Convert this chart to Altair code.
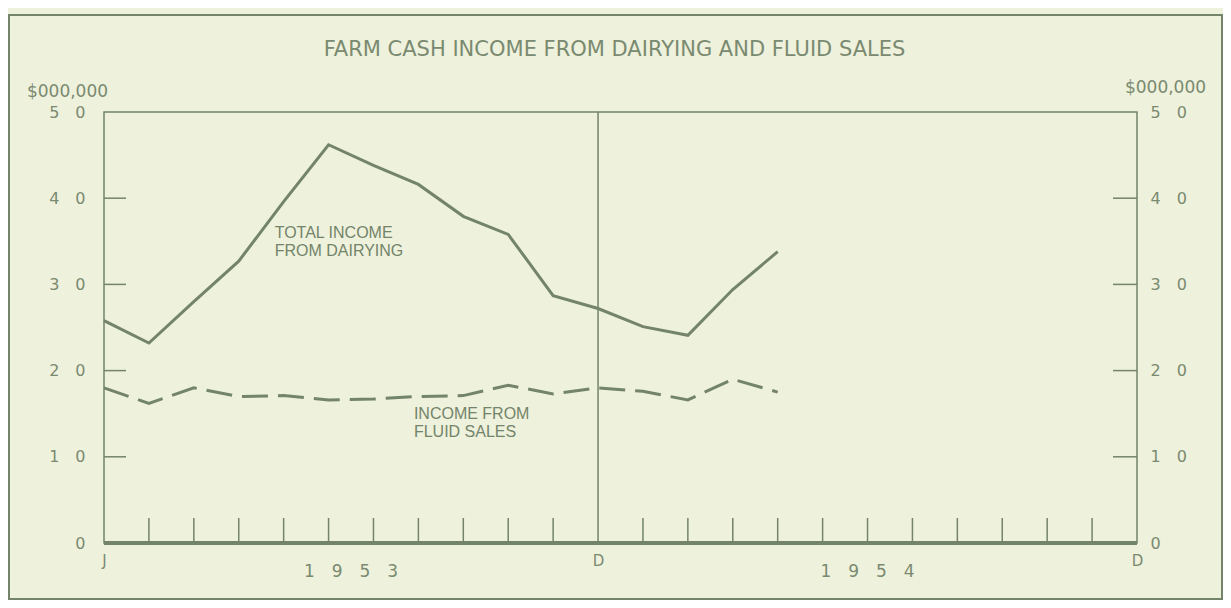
import altair as alt
import pandas as pd

# ---------------- data ----------------
month_names = ["Jan", "Feb", "Mar", "Apr", "May", "Jun", "Jul", "Aug", "Sep", "Oct", "Nov", "Dec",
               "Jan", "Feb", "Mar", "Apr"]
years = [1953] * 12 + [1954] * 4
total_income = [25.8, 23.2, 28.0, 32.7, 39.6, 46.2, 43.8, 41.6, 37.9, 35.8, 28.7, 27.2,
                25.1, 24.1, 29.4, 33.8]
fluid_sales = [18.0, 16.2, 18.0, 17.0, 17.1, 16.6, 16.7, 17.0, 17.1, 18.3, 17.3, 18.0,
               17.6, 16.6, 19.0, 17.5]

y_tick_values = [0, 10, 20, 30, 40, 50]
y_inner_ticks = [10, 20, 30, 40]
x_month_ticks = [1, 2, 3, 4, 5, 6, 7, 8, 9, 10, 12, 13, 14, 15, 16, 17, 18, 19, 20, 21, 22]
x_label_positions = [0, 11, 23]
x_label_texts = ["J", "D", "D"]
divider_months = [11]
year_positions = [5.5, 17]
year_texts = ["1\u20039\u20035\u20033", "1\u20039\u20035\u20034"]
annotation_x = [3.8, 6.9]
annotation_y = [36.9, 15.9]
annotation_texts = ["TOTAL INCOME\nFROM DAIRYING", "INCOME FROM\nFLUID SALES"]
title_text = "FARM CASH INCOME FROM DAIRYING AND FLUID SALES"
unit_text = "$000,000"

# ---------------- styling ----------------
BG = "#eef1dc"
LINE = "#73846a"
TEXT = "#7a8a70"
FONT = "DejaVu Sans"
W, H = 1033, 431

df = pd.DataFrame({
    "k": list(range(len(total_income))),
    "month": month_names,
    "year": years,
    "total": total_income,
    "fluid": fluid_sales,
})

xs = alt.Scale(domain=[0, 23], nice=False, zero=False)
ys = alt.Scale(domain=[0, 50], nice=False)

x_expr = "''"
for pos, txt in reversed(list(zip(x_label_positions, x_label_texts))):
    x_expr = f"datum.value == {pos} ? '{txt}' : ({x_expr})"

y_expr = "datum.value == 0 ? '0' : format(datum.value / 10, 'd') + '\u2003' + '0'"

x_axis = alt.Axis(values=x_label_positions, labelExpr=x_expr, labelFlush=False,
                  labelPadding=10, labelFontSize=15, title=None, orient="bottom")

left_axis = alt.Axis(values=y_tick_values, labelExpr=y_expr, labelFlush=False, orient="left",
                     labelPadding=19, labelFontSize=16, title=unit_text, titleAngle=0,
                     titleX=-37, titleY=-21, titleAlign="center", titleBaseline="middle",
                     titleFont=FONT, titleFontSize=17, titleFontWeight="normal", titleColor=TEXT)
right_axis = alt.Axis(values=y_tick_values, labelExpr=y_expr, labelFlush=False, orient="right",
                      labelPadding=13, labelFontSize=16, title=unit_text, titleAngle=0,
                      titleX=28, titleY=-25, titleAlign="center", titleBaseline="middle",
                      titleFont=FONT, titleFontSize=17, titleFontWeight="normal", titleColor=TEXT)

X = alt.X("k:Q", scale=xs, axis=x_axis)

frame = alt.Chart(df).mark_rect(filled=False, stroke=LINE, strokeWidth=2).encode(
    x=alt.value(-95), x2=alt.value(W + 85), y=alt.value(-97), y2=alt.value(H + 56))

title = alt.Chart(pd.DataFrame({"t": [title_text]})).mark_text(
    align="center", baseline="middle", font=FONT, fontSize=21, color=TEXT).encode(
    x=alt.value(W / 2 - 6), y=alt.value(-62), text="t:N")

baseline = alt.Chart(df).mark_rule(color=LINE, strokeWidth=3).encode(
    x=alt.value(0), x2=alt.value(W), y=alt.value(H))

divider = alt.Chart(pd.DataFrame({"k": divider_months})).mark_rule(
    color=LINE, strokeWidth=1.5).encode(
    x=X, y=alt.value(0), y2=alt.value(H))

xticks = alt.Chart(pd.DataFrame({"k": x_month_ticks})).mark_rule(
    color=LINE, strokeWidth=1.5).encode(
    x=X, y=alt.value(H), y2=alt.value(H - 25))

yticks_left = alt.Chart(pd.DataFrame({"v": y_inner_ticks})).mark_rule(
    color=LINE, strokeWidth=1.5).encode(
    y=alt.Y("v:Q", scale=ys, axis=None), x=alt.value(0), x2=alt.value(22))

yticks_right = alt.Chart(pd.DataFrame({"v": y_inner_ticks})).mark_rule(
    color=LINE, strokeWidth=1.5).encode(
    y=alt.Y("v:Q", scale=ys, axis=None), x=alt.value(W), x2=alt.value(W - 24))

total_line = alt.Chart(df).mark_line(color=LINE, strokeWidth=3).encode(
    x=X,
    y=alt.Y("total:Q", scale=ys, axis=left_axis),
)

fluid_line = alt.Chart(df).mark_line(color=LINE, strokeWidth=3, strokeDash=[26, 10]).encode(
    x=X,
    y=alt.Y("fluid:Q", scale=ys, axis=right_axis),
)

annotations = alt.Chart(pd.DataFrame({
    "k": annotation_x, "y": annotation_y, "text": annotation_texts})).mark_text(
    align="left", baseline="top", lineBreak="\n", font="Liberation Sans", fontSize=16,
    lineHeight=18, color=LINE).encode(
    x=X,
    y=alt.Y("y:Q", scale=ys, axis=None),
    text="text:N",
)

year_labels = alt.Chart(pd.DataFrame({"k": year_positions, "text": year_texts})).mark_text(
    align="center", baseline="middle", font=FONT, fontSize=17, color=TEXT).encode(
    x=X,
    y=alt.value(H + 29),
    text="text:N",
)

chart = alt.layer(
    frame, title, baseline, divider, xticks, yticks_left, yticks_right,
    total_line, fluid_line, annotations, year_labels,
).resolve_scale(
    y="independent"
).properties(
    width=W,
    height=H,
    padding={"left": 96, "top": 104, "right": 86, "bottom": 57},
    autosize=alt.AutoSizeParams(type="none"),
).configure(
    background=BG,
).configure_view(
    stroke=LINE, strokeWidth=1.5,
).configure_axis(
    grid=False, domain=False, ticks=False, tickSize=0,
    labelFont=FONT, labelColor=TEXT,
)

chart.save("out.html", embed_options={"renderer": "svg", "actions": False})
